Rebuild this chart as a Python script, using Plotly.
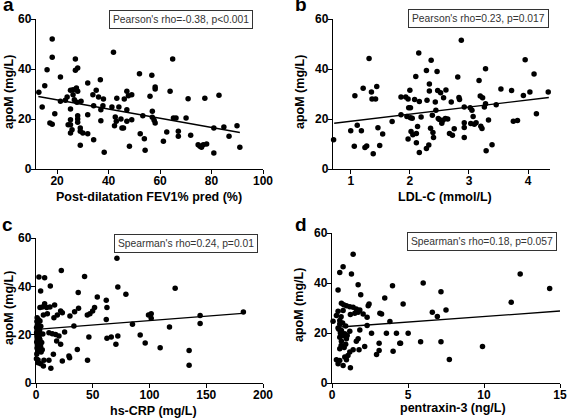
import plotly.graph_objects as go

# ---------------- data ----------------
a_x = [12.9,14.2,15.2,16.1,18.1,18.1,17.2,18.1,19.1,21.3,21.3,23.2,23.9,24.3,25.2,25.2,25.2,25.2,25.2,25.8,
       26.2,26.2,26.7,27.1,27.1,27.5,28.0,28.0,27.7,28.0,28.0,28.0,29.0,29.0,29.0,29.3,30.0,31.9,31.9,31.9,
       33.9,34.2,34.2,35.2,36.1,36.8,37.0,37.0,37.8,38.0,38.3,41.3,41.9,42.3,42.6,43.0,43.2,44.0,44.8,45.2,
       45.8,46.1,47.1,47.1,47.1,47.7,48.1,49.0,49.0,52.0,52.3,53.3,53.9,54.2,56.1,56.8,57.0,57.0,57.7,58.1,
       58.1,58.1,61.3,62.6,63.9,64.9,65.2,66.2,67.1,67.1,70.1,70.9,71.9,74.8,75.5,76.1,76.8,77.4,78.1,80.9,
       80.9,82.9,84.8,86.8,89.9,91.0]
a_y = [30.7,24.8,33.3,39.7,52.0,44.7,18.4,17.9,22.1,36.8,27.1,27.5,28.8,17.7,17.7,31.5,24.0,19.7,14.4,15.7,
       31.7,29.7,27.7,44.0,39.5,32.4,40.4,31.1,26.7,21.3,20.0,18.7,16.4,15.1,9.5,27.1,14.4,34.4,21.7,14.1,
       29.7,25.3,11.7,31.5,28.8,35.7,23.7,19.3,25.3,28.0,6.7,24.8,46.7,17.3,20.8,19.1,28.3,24.8,20.0,16.4,
       16.4,28.0,31.1,23.7,19.1,29.3,9.1,29.7,19.7,38.1,14.1,21.3,12.1,7.5,29.1,37.5,23.1,20.7,19.5,32.8,
       32.0,18.4,11.1,14.8,31.1,44.0,20.4,20.4,15.1,13.1,20.4,28.1,13.5,9.7,9.1,8.7,9.7,28.3,10.0,16.4,
       6.4,29.5,16.8,13.1,17.3,8.7]
a_fit_x = [12.7, 91.0]
a_fit_y = [29.0, 14.6]

b_x = [0.71,1.00,1.06,1.07,1.11,1.18,1.24,1.27,1.21,1.31,1.35,1.36,1.42,1.44,1.46,1.49,1.38,1.54,1.70,1.85,
       1.85,1.93,1.95,1.97,2.00,1.97,1.98,2.01,2.01,2.02,2.05,2.04,2.08,2.10,2.11,2.11,2.13,2.15,2.16,2.16,
       2.19,2.28,2.28,2.29,2.32,2.33,2.33,2.35,2.36,2.38,2.39,2.40,2.43,2.44,2.46,2.47,2.48,2.50,2.52,2.54,
       2.56,2.57,2.60,2.61,2.64,2.67,2.70,2.72,2.75,2.81,2.83,2.84,2.87,2.92,2.92,2.92,2.92,3.02,3.03,3.05,
       3.07,3.09,3.12,3.17,3.19,3.20,3.22,3.23,3.26,3.28,3.28,3.29,3.33,3.39,3.46,3.54,3.72,3.75,3.82,3.92,
       3.95,4.03,4.10,4.14,4.34]
b_y = [11.7,15.3,9.1,29.3,17.5,15.3,8.6,9.2,32.3,44.2,30.8,28.0,28.0,33.0,16.5,9.4,6.1,14.0,19.0,28.8,
       21.7,28.8,21.0,28.0,31.5,12.0,24.5,24.5,20.5,15.0,13.7,20.3,27.8,37.0,14.2,10.5,17.0,46.4,27.0,6.6,
       20.8,39.4,8.2,27.5,9.6,34.0,31.2,16.3,43.5,21.5,14.6,12.6,26.8,23.5,39.0,31.4,20.2,19.8,30.5,18.3,
       19.5,28.5,20.2,31.6,20.0,14.2,26.8,13.5,16.1,36.8,28.6,27.8,51.5,24.8,18.5,16.6,12.6,24.5,18.2,23.5,
       21.0,17.9,18.5,35.4,29.2,17.1,16.2,28.5,24.8,40.1,26.1,7.3,19.6,9.7,25.7,32.0,31.4,19.1,19.4,29.4,
       43.7,30.8,38.0,22.1,30.8]
b_fit_x = [0.72, 4.35]
b_fit_y = [18.3, 28.6]

c_x = [71.3,72.1,79.2,61.9,62.5,61.9,62.5,66.3,72.1,70.4,85.0,91.8,96.2,99.1,101.5,101.5,109.4,117.6,122.6,134.9,
       134.9,144.6,144.6,182.7,
       2.6,7.6,22.3,42.8,12.6,4.1,37.2,54.0,7.6,9.4,5.6,3.5,12.3,16.4,21.7,23.2,29.9,34.0,37.5,45.2,
       47.5,49.9,51.6,10.0,6.5,15.8,18.8,33.4,3.5,1.8,11.4,14.4,17.3,20.2,25.2,18.2,21.7,46.6,15.3,29.0,
       29.6,36.4,7.0,11.4,23.2,45.4,1.8,6.5,13.1,4.1,
       0.8,1.2,0.5,2.0,1.0,3.0,1.5,0.8,2.5,1.0,3.5,0.6,2.0,1.2,4.0,0.9,2.8,1.5,4.5,0.7,
       3.0,5.0,6.0,2.2,1.0,4.2,5.5,0.4,1.8,3.2,2.4,0.5]
c_y = [51.6,39.7,36.7,34.2,31.2,26.3,18.5,19.0,19.4,16.0,24.3,19.9,16.6,28.1,28.7,26.8,14.6,23.2,39.2,13.5,
       7.3,27.9,24.6,29.4,
       43.9,43.6,46.6,44.1,40.1,38.1,37.4,35.6,32.8,31.2,31.4,31.2,31.4,32.3,29.8,29.1,27.7,29.5,30.9,28.1,
       28.7,29.8,31.2,28.7,28.1,27.0,28.1,23.6,25.7,24.3,20.8,20.4,20.1,19.4,21.1,17.4,16.0,19.0,11.9,11.2,
       10.5,13.9,9.4,9.4,9.1,9.4,8.4,7.0,6.1,8.0,
       25.5,24.0,23.0,22.5,21.8,21.0,20.2,19.5,19.0,18.3,17.8,17.0,16.5,15.8,15.2,14.5,14.0,13.2,12.8,12.0,
       18.5,16.8,20.3,26.2,27.0,23.5,13.8,10.0,9.5,22.0,16.0,20.8]
c_fit_x = [0.5, 182.0]
c_fit_y = [22.2, 28.8]

d_x = [6.0,7.17,4.68,6.6,6.93,7.5,12.38,14.32,11.79,5.01,4.51,5.83,7.17,7.72,9.9,
       1.39,0.73,0.51,1.28,0.4,1.72,3.98,1.89,3.47,0.62,0.77,0.95,1.17,1.39,1.6,1.83,2.38,2.44,3.15,3.26,
       2.05,1.5,1.72,1.21,0.4,0.73,0.29,0.07,0.51,2.31,3.81,2.31,0.51,0.4,0.62,0.84,0.51,0.95,0.62,1.17,
       1.83,2.6,3.58,4.24,1.72,1.6,2.15,3.1,4.46,2.93,3.1,4.02,1.39,1.78,0.51,1.17,0.84,0.95,0.51,0.4,
       0.73,1.21,0.29,1.05,
       0.6,0.7,0.9,0.55,0.75,0.9,0.6,0.8,1.0,0.45]
d_y = [40.0,36.5,31.6,28.3,26.6,29.2,43.6,37.8,32.3,19.9,15.9,16.5,16.5,9.4,14.6,
       51.5,46.5,44.2,43.6,37.2,39.3,38.9,35.3,34.0,31.9,31.3,30.9,30.5,30.3,29.6,29.2,30.9,31.6,27.9,27.6,
       27.6,27.9,28.3,27.4,28.7,29.0,27.0,24.7,25.0,26.3,24.6,23.0,23.6,22.0,21.0,19.7,18.3,17.7,16.7,20.7,
       21.2,19.9,19.9,19.9,17.7,16.7,14.6,15.9,15.9,11.4,13.0,12.7,13.3,13.3,13.7,12.4,10.4,9.3,9.0,7.7,
       7.0,6.1,9.3,11.0,
       26.5,24.0,22.8,20.0,18.9,15.5,15.0,14.2,19.0,21.5]
d_fit_x = [0.3, 15.0]
d_fit_y = [22.3, 28.8]

y_ticks = [0, 20, 40, 60]
a_ticks = [20, 40, 60, 80, 100]
b_ticks = [1, 2, 3, 4]
c_ticks = [0, 50, 100, 150, 200]
d_ticks = [0, 5, 10, 15]

x_titles = ["Post-dilatation FEV1% pred (%)", "LDL-C (mmol/L)", "hs-CRP (mg/L)", "pentraxin-3 (ng/L)"]
y_title = "apoM (mg/L)"
stats = ["Pearson's rho=-0.38, p<0.001", "Pearson's rho=0.23, p=0.017",
         "Spearman's rho=0.24, p=0.01", "Spearman's rho=0.18, p=0.057"]
panel_labels = ["a", "b", "c", "d"]

# ---------------- layout helpers ----------------
W, H = 567, 420
FONT = "Arial, Liberation Sans, sans-serif"

def px_x(p):
    return p / W

def px_y(p):
    return 1 - p / H

panels = [
    dict(xs=a_x, ys=a_y, fx=a_fit_x, fy=a_fit_y, xr=[11.8, 100], xt=a_ticks, dom_x=(36, 263), dom_y=(19, 169)),
    dict(xs=b_x, ys=b_y, fx=b_fit_x, fy=b_fit_y, xr=[0.7, 4.37], xt=b_ticks, dom_x=(333, 550), dom_y=(19, 169)),
    dict(xs=c_x, ys=c_y, fx=c_fit_x, fy=c_fit_y, xr=[0, 200], xt=c_ticks, dom_x=(36, 263), dom_y=(238, 383)),
    dict(xs=d_x, ys=d_y, fx=d_fit_x, fy=d_fit_y, xr=[0, 15], xt=d_ticks, dom_x=(332, 560), dom_y=(233, 383)),
]

# annotation positions (pixel centers)
stat_pos = [(181, 19.5), (478, 19), (186, 243), (482, 241.5)]
xtitle_pos = [(149, 197), (445, 197), (153, 411), (453, 408)]
ytitle_pos = [(9, 92), (300, 92), (9, 308), (299, 305)]
label_pos = [(8, 5), (301, 5), (7, 224), (301, 224)]

fig = go.Figure()
layout = dict(
    width=W, height=H, margin=dict(l=0, r=0, t=0, b=0, autoexpand=False),
    paper_bgcolor="white", plot_bgcolor="white", showlegend=False,
    font=dict(family=FONT, color="black"),
)
annotations = []

for i, p in enumerate(panels):
    n = "" if i == 0 else str(i + 1)
    xa, ya = "x" + n, "y" + n
    fig.add_trace(go.Scatter(x=p["xs"], y=p["ys"], mode="markers", xaxis=xa, yaxis=ya,
                             marker=dict(size=5.5, color="black"), cliponaxis=False))
    fig.add_trace(go.Scatter(x=p["fx"], y=p["fy"], mode="lines", xaxis=xa, yaxis=ya,
                             line=dict(color="black", width=1.3)))
    common = dict(showline=True, linecolor="black", linewidth=1.4, ticks="outside", ticklen=4,
                  tickwidth=1.4, tickcolor="black", showgrid=False, zeroline=False, automargin=False,
                  tickfont=dict(family=FONT, size=12, color="black", weight="bold"))
    layout["xaxis" + n] = dict(common, domain=[px_x(p["dom_x"][0]), px_x(p["dom_x"][1])],
                               range=p["xr"], tickvals=p["xt"], anchor=ya, ticklabelstandoff=-4)
    layout["yaxis" + n] = dict(common, domain=[px_y(p["dom_y"][1]), px_y(p["dom_y"][0])],
                               range=[0, 60], tickvals=y_ticks, anchor=xa, ticklabelstandoff=-3)

    sx, sy = stat_pos[i]
    annotations.append(dict(text=stats[i], xref="paper", yref="paper", x=px_x(sx), y=px_y(sy),
                            xanchor="center", yanchor="middle", showarrow=False,
                            font=dict(family=FONT, size=10.3, color="#333"),
                            bordercolor="#333", borderwidth=1, borderpad=3, bgcolor="white"))
    tx, ty = xtitle_pos[i]
    annotations.append(dict(text=x_titles[i], xref="paper", yref="paper", x=px_x(tx), y=px_y(ty),
                            xanchor="center", yanchor="middle", showarrow=False,
                            font=dict(family=FONT, size=12.5, color="black", weight="bold")))
    yx, yy = ytitle_pos[i]
    annotations.append(dict(text=y_title, xref="paper", yref="paper", x=px_x(yx), y=px_y(yy),
                            xanchor="center", yanchor="middle", showarrow=False, textangle=-90,
                            font=dict(family=FONT, size=12.5, color="black", weight="bold")))
    lx, ly = label_pos[i]
    annotations.append(dict(text=panel_labels[i], xref="paper", yref="paper", x=px_x(lx), y=px_y(ly),
                            xanchor="center", yanchor="middle", showarrow=False,
                            font=dict(family=FONT, size=19, color="black", weight="bold")))

layout["annotations"] = annotations
fig.update_layout(**layout)
fig.write_html("out.html", config={"displayModeBar": False},
               post_script="document.body.style.margin='0';document.body.style.padding='0';"
                           "document.body.style.overflow='hidden';")
